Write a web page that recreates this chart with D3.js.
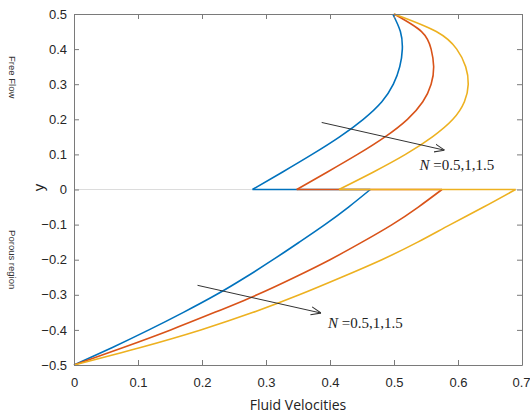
<!DOCTYPE html>
<html>
<head>
<meta charset="utf-8">
<script src="https://cdn.jsdelivr.net/npm/d3@7"></script>
<style>
  body { margin: 0; background: #fff; }
  .axis text { font-family: "Liberation Sans", Arial, sans-serif; font-size: 13px; fill: #262626; }
  .axis path, .axis line { stroke: #7a7a7a; }
  .side { font-family: "Liberation Sans", Arial, sans-serif; font-size: 9.5px; fill: #333; }
  .note { font-family: "Liberation Serif", "Times New Roman", serif; font-size: 15px; fill: #222; }
</style>
</head>
<body>
<script>
// y positions for the two regions
const yPorous = [-0.5, -0.45, -0.4, -0.35, -0.3, -0.25, -0.2, -0.15, -0.1, -0.05, 0];
const yFree   = [0, 0.05, 0.1, 0.15, 0.2, 0.25, 0.3, 0.35, 0.4, 0.45, 0.5];

// fluid velocity, porous region (N = 0.5, 1, 1.5)
const porousN05 = [0, 0.060, 0.117, 0.171, 0.222, 0.268, 0.311, 0.352, 0.392, 0.429, 0.463];
const porousN1  = [0, 0.077, 0.151, 0.220, 0.286, 0.345, 0.400, 0.450, 0.497, 0.538, 0.575];
const porousN15 = [0, 0.104, 0.198, 0.280, 0.352, 0.418, 0.481, 0.537, 0.588, 0.640, 0.690];

// fluid velocity, free flow region
const freeN05 = [0.279, 0.326, 0.372, 0.415, 0.452, 0.481, 0.499, 0.509, 0.513, 0.510, 0.498];
const freeN1  = [0.348, 0.396, 0.443, 0.486, 0.521, 0.545, 0.558, 0.562, 0.558, 0.543, 0.500];
const freeN15 = [0.414, 0.468, 0.518, 0.560, 0.592, 0.610, 0.616, 0.612, 0.598, 0.566, 0.500];

const xTicks = [0, 0.1, 0.2, 0.3, 0.4, 0.5, 0.6, 0.7];
const yTicks = [-0.5, -0.4, -0.3, -0.2, -0.1, 0, 0.1, 0.2, 0.3, 0.4, 0.5];
const nLabel = "=0.5,1,1.5";

const colors = ["#0072BD", "#D95319", "#EDB120"];

const w = 530, h = 420;
const margin = {top: 14, right: 8, bottom: 55, left: 74};

const svg = d3.select("body")
  .append("svg")
  .attr("width", w)
  .attr("height", h);

svg.append("rect").attr("width", w).attr("height", h).attr("fill", "#fff");

const x = d3.scaleLinear()
  .domain([0, 0.7])
  .range([margin.left, w - margin.right]);

const y = d3.scaleLinear()
  .domain([-0.5, 0.5])
  .range([h - margin.bottom, margin.top]);

// light zero line
svg.append("line")
  .attr("x1", x(0)).attr("x2", x(0.7))
  .attr("y1", y(0)).attr("y2", y(0))
  .attr("stroke", "#dcdcdc")
  .attr("stroke-width", 1);

const series = [
  {porous: porousN05, free: freeN05},
  {porous: porousN1,  free: freeN1},
  {porous: porousN15, free: freeN15}
];

// curves are drawn along y, so the spline runs on the y coordinate
const line = d3.line()
  .x(d => x(d[0]))
  .y(d => y(d[1]))
  .curve(d3.curveNatural);

series.forEach((s, i) => {
  const g = svg.append("g")
    .attr("fill", "none")
    .attr("stroke", colors[i])
    .attr("stroke-width", 1.6);

  g.append("path").attr("d", line(s.porous.map((v, k) => [v, yPorous[k]])));
  g.append("path").attr("d", line(s.free.map((v, k) => [v, yFree[k]])));
  // join along y = 0
  g.append("path").attr("d", d3.line()([
    [x(s.porous[s.porous.length - 1]), y(0)],
    [x(s.free[0]), y(0)]
  ]));
});

// axes (ticks inside, box on)
const xAxisG = svg.append("g")
  .attr("class", "axis")
  .attr("transform", `translate(0,${y(-0.5)})`)
  .call(d3.axisBottom(x).tickValues(xTicks).tickFormat(d3.format("")).tickSizeInner(-5).tickSizeOuter(0).tickPadding(13));

// last label sits against the page edge
xAxisG.selectAll(".tick text")
  .filter(d => d === 0.7)
  .attr("text-anchor", "end")
  .attr("dx", 8);

svg.append("g")
  .attr("class", "axis")
  .attr("transform", `translate(${x(0)},0)`)
  .call(d3.axisLeft(y).tickValues(yTicks).tickFormat(d3.format("")).tickSizeInner(-5).tickSizeOuter(0).tickPadding(7));

svg.append("g")
  .attr("class", "axis")
  .attr("transform", `translate(0,${y(0.5)})`)
  .call(d3.axisTop(x).tickValues(xTicks).tickFormat("").tickSizeInner(-5).tickSizeOuter(0));

svg.append("g")
  .attr("class", "axis")
  .attr("transform", `translate(${x(0.7)},0)`)
  .call(d3.axisRight(y).tickValues(yTicks).tickFormat("").tickSizeInner(-5).tickSizeOuter(0));

svg.selectAll(".axis .domain").attr("stroke-width", 1);

// axis labels
svg.append("text")
  .attr("x", x(0.35))
  .attr("y", 410)
  .attr("text-anchor", "middle")
  .style("font-family", "'Open Sans', 'Liberation Sans', sans-serif")
  .style("font-size", "14px")
  .attr("fill", "#222")
  .text("Fluid Velocities");

svg.append("text")
  .attr("transform", `translate(44,${y(0) - 2}) rotate(-90)`)
  .attr("text-anchor", "middle")
  .style("font-family", "'Liberation Sans', Arial, sans-serif")
  .style("font-size", "15px")
  .attr("fill", "#222")
  .text("y");

svg.append("text")
  .attr("class", "side")
  .attr("transform", `translate(9,${y(0.32)}) rotate(90)`)
  .attr("text-anchor", "middle")
  .text("Free Flow");

svg.append("text")
  .attr("class", "side")
  .attr("transform", `translate(9,${y(-0.2)}) rotate(90)`)
  .attr("text-anchor", "middle")
  .text("Porous region");

// annotation arrows
svg.append("defs").append("marker")
  .attr("id", "head")
  .attr("viewBox", "0 0 10 10")
  .attr("refX", 10).attr("refY", 5)
  .attr("markerWidth", 10).attr("markerHeight", 10)
  .attr("markerUnits", "userSpaceOnUse")
  .attr("orient", "auto")
  .append("path")
  .attr("d", "M0,1 L10,5 L0,9")
  .attr("fill", "none")
  .attr("stroke", "#333")
  .attr("stroke-width", 1);

const arrows = [
  {from: [0.387, 0.191], to: [0.579, 0.112], text: [0.540, 0.055]},
  {from: [0.193, -0.273], to: [0.386, -0.352], text: [0.397, -0.394]}
];

arrows.forEach(a => {
  svg.append("line")
    .attr("x1", x(a.from[0])).attr("y1", y(a.from[1]))
    .attr("x2", x(a.to[0])).attr("y2", y(a.to[1]))
    .attr("stroke", "#333")
    .attr("stroke-width", 1)
    .attr("marker-end", "url(#head)");

  const t = svg.append("text")
    .attr("class", "note")
    .attr("x", x(a.text[0]))
    .attr("y", y(a.text[1]));
  t.append("tspan").style("font-style", "italic").text("N");
  t.append("tspan").text(" " + nLabel);
});
</script>
</body>
</html>
